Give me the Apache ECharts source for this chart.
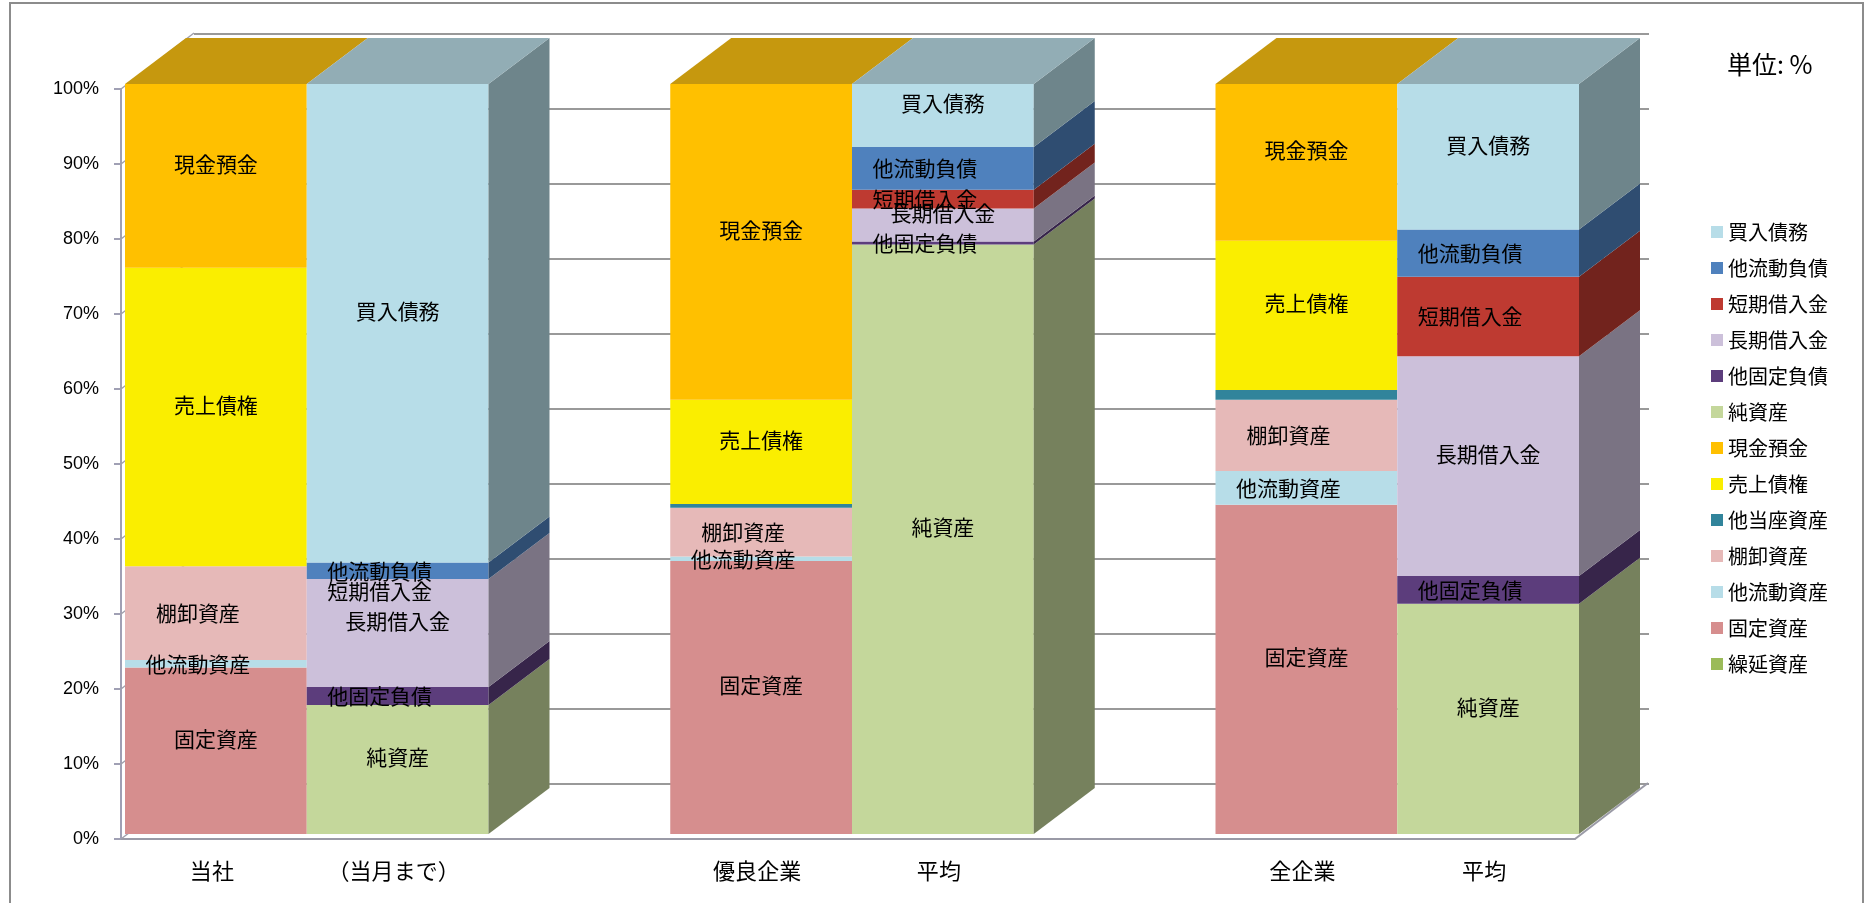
<!DOCTYPE html>
<html lang="ja">
<head>
<meta charset="utf-8">
<title>貸借対照表 構成比較</title>
<script src="https://cdn.jsdelivr.net/npm/echarts@6/dist/echarts.min.js"></script>
<style>
  html, body { margin: 0; padding: 0; background: #fff; }
  #chart { width: 1868px; height: 903px; }
</style>
</head>
<body>
<div id="chart"></div>
<script>
// Column labels (asset column / liability column for each comparison group)
const categories = ['当社', '（当月まで）', '優良企業', '平均', '全企業', '平均'];

// Composition ratios in % per column (null = not part of that column)
const deferredAssets    = [null, null, null, null, null, null];
const fixedAssets       = [22.2, null, 36.4, null, 43.9, null];
const otherCurrentAssets= [1.0,  null, 0.6,  null, 4.5,  null];
const inventories       = [12.5, null, 6.5,  null, 9.5,  null];
const otherQuickAssets  = [null, null, 0.5,  null, 1.3,  null];
const receivables       = [39.8, null, 13.9, null, 19.9, null];
const cashDeposits      = [24.5, null, 42.1, null, 20.9, null];
const netAssets         = [null, 17.2, null, 78.6, null, 30.7];
const otherFixedLiab    = [null, 2.4,  null, 0.4,  null, 3.7];
const longTermLoans     = [null, 14.4, null, 4.4,  null, 29.3];
const shortTermLoans    = [null, 0.0,  null, 2.5,  null, 10.6];
const otherCurrentLiab  = [null, 2.2,  null, 5.7,  null, 6.3];
const tradePayables     = [null, 63.8, null, 8.4,  null, 19.4];

// Y axis ticks
const yTicks = [0, 10, 20, 30, 40, 50, 60, 70, 80, 90, 100];

// Stacking order, bottom to top
const layers = [
  { name: '繰延資産',   values: deferredAssets,     color: '#9bbb59' },
  { name: '固定資産',   values: fixedAssets,        color: '#d68e8e' },
  { name: '他流動資産', values: otherCurrentAssets, color: '#b7dde8' },
  { name: '棚卸資産',   values: inventories,        color: '#e6b9b8' },
  { name: '他当座資産', values: otherQuickAssets,   color: '#31849b' },
  { name: '売上債権',   values: receivables,        color: '#faee00' },
  { name: '現金預金',   values: cashDeposits,       color: '#ffc000' },
  { name: '純資産',     values: netAssets,          color: '#c4d79b' },
  { name: '他固定負債', values: otherFixedLiab,     color: '#5c3d7c' },
  { name: '長期借入金', values: longTermLoans,      color: '#ccc0da' },
  { name: '短期借入金', values: shortTermLoans,     color: '#be3a31' },
  { name: '他流動負債', values: otherCurrentLiab,   color: '#4f81bd' },
  { name: '買入債務',   values: tradePayables,      color: '#b7dde8' }
];

// Legend listing, top of stack first
const legendOrder = layers.map(l => l.name).reverse();

// Segments whose caption sits on one line (name followed by value)
const inlineCaption = new Set(['他流動資産', '棚卸資産', '他固定負債', '短期借入金', '他流動負債']);
// Segments drawn without a caption
const noCaption = new Set(['他当座資産', '繰延資産']);

// 3D look: bar face shift, bar depth and wall depth in pixels
const BAR_SHIFT = [4, -5];
const BAR_DEPTH = [61, -46];
const WALL_DEPTH = [73, -56];

const FONT_CJK = '"Noto Sans CJK JP", "Noto Sans CJK SC", sans-serif';

function shade(hex, f, lift) {
  const n = parseInt(hex.slice(1), 16);
  const k = lift || 0;
  const ch = v => Math.min(255, Math.round(v * f + k));
  return 'rgb(' + ch((n >> 16) & 255) + ',' + ch((n >> 8) & 255) + ',' + ch(n & 255) + ')';
}

// left edge (axis units) of each column: pairs of adjacent bars, groups 3 units apart
function slotLeft(col) {
  return Math.floor(col / 2) * 3 + (col % 2);
}

// topmost layer present in each column
const topLayer = categories.map((_, col) => {
  let top = -1;
  layers.forEach((l, li) => { if (l.values[col] != null && l.values[col] > 0) top = li; });
  return top;
});

// cumulative bases
const running = categories.map(() => 0);
const layerData = layers.map((l, li) => {
  const rows = [];
  l.values.forEach((v, col) => {
    if (v == null) return;
    rows.push([slotLeft(col), v, running[col], topLayer[col] === li ? 1 : 0, col]);
    running[col] += v;
  });
  return rows;
});

function makeRenderer(layer) {
  return function (params, api) {
    const left = api.value(0);
    const val = api.value(1);
    const base = api.value(2);
    const isTop = api.value(3);
    const col = api.value(4);
    const a = api.coord([left, base]);
    const b = api.coord([left + 1, base + val]);
    const x0 = a[0] + BAR_SHIFT[0], x1 = b[0] + BAR_SHIFT[0];
    const yb = a[1] + BAR_SHIFT[1], yt = b[1] + BAR_SHIFT[1];
    const dx = BAR_DEPTH[0], dy = BAR_DEPTH[1];
    const children = [];
    if (val > 0) {
      children.push({
        type: 'rect',
        shape: { x: x0, y: yt, width: x1 - x0, height: yb - yt },
        style: { fill: layer.color }
      });
      if (col % 2 === 1) {
        children.push({
          type: 'polygon',
          shape: { points: [[x1, yb], [x1, yt], [x1 + dx, yt + dy], [x1 + dx, yb + dy]] },
          style: { fill: shade(layer.color, 0.6) }
        });
      }
      if (isTop) {
        children.push({
          type: 'polygon',
          shape: { points: [[x0, yt], [x1, yt], [x1 + dx, yt + dy], [x0 + dx, yt + dy]] },
          style: { fill: shade(layer.color, 0.72, 14) }
        });
      }
    }
    if (!noCaption.has(layer.name)) {
      const cx = (x0 + x1) / 2;
      const cy = (yb + yt) / 2;
      let tx = cx, ty = cy - 12;
      if (inlineCaption.has(layer.name)) {
        tx = cx - 18;
        ty = (yb - yt) < 1 ? cy + 12 : cy;
      }
      children.push({
        type: 'text',
        z2: 100,
        style: {
          text: layer.name, x: tx, y: ty,
          align: 'center', verticalAlign: 'middle',
          fill: '#000', font: '21px ' + FONT_CJK
        }
      });
    }
    return { type: 'group', children: children };
  };
}

// wall edges: floor corner and left wall tick lines
function renderFrame(params, api) {
  const children = [];
  const corner = api.coord([8, 0]);
  children.push({
    type: 'line',
    shape: { x1: corner[0], y1: corner[1], x2: corner[0] + WALL_DEPTH[0], y2: corner[1] + WALL_DEPTH[1] },
    style: { stroke: '#9a9aa6', lineWidth: 2 }
  });
  yTicks.forEach(t => {
    const p = api.coord([0, t]);
    children.push({
      type: 'line',
      shape: { x1: p[0], y1: p[1], x2: p[0] + WALL_DEPTH[0], y2: p[1] + WALL_DEPTH[1] },
      style: { stroke: '#a0a0ac', lineWidth: 1.5 }
    });
  });
  return { type: 'group', children: children };
}

const series = layers.map((layer, li) => ({
  name: layer.name,
  type: 'custom',
  xAxisIndex: 0,
  yAxisIndex: 0,
  z: 3,
  itemStyle: { color: layer.color },
  encode: { x: 0, y: 1 },
  renderItem: makeRenderer(layer),
  data: layerData[li]
}));

series.unshift({
  name: 'frame',
  type: 'custom',
  xAxisIndex: 0,
  yAxisIndex: 0,
  z: 1,
  silent: true,
  renderItem: renderFrame,
  data: [[8, 0]]
});

const chart = echarts.init(document.getElementById('chart'));
chart.setOption({
  backgroundColor: '#fff',
  animation: false,
  title: {
    text: '単位: %',
    left: 1722,
    top: 47,
    textStyle: { fontSize: 25, fontWeight: 'normal', color: '#000', fontFamily: FONT_CJK }
  },
  legend: {
    data: legendOrder,
    orient: 'vertical',
    left: 1706,
    top: 217,
    icon: 'rect',
    itemWidth: 12,
    itemHeight: 12,
    itemGap: 16,
    textStyle: { fontSize: 20, lineHeight: 20, color: '#000', fontFamily: FONT_CJK }
  },
  grid: [
    { left: 121, right: 293, top: 89, bottom: 64 },
    { left: 194, right: 219, top: 34, bottom: 119 }
  ],
  xAxis: [
    {
      gridIndex: 0,
      type: 'value',
      min: 0, max: 8, interval: 0.5,
      splitLine: { show: false },
      axisTick: { show: false },
      axisLine: { show: true, lineStyle: { color: '#9a9aa6', width: 2 } },
      axisLabel: {
        margin: 21,
        fontSize: 22,
        color: '#000',
        fontFamily: FONT_CJK,
        formatter: function (v) {
          const g = Math.floor(v / 3);
          const r = Math.round((v - g * 3) * 10) / 10;
          if (r === 0.5) return categories[g * 2] || '';
          if (r === 1.5) return categories[g * 2 + 1] || '';
          return '';
        }
      }
    },
    {
      gridIndex: 1,
      type: 'value',
      min: 0, max: 8,
      show: false
    }
  ],
  yAxis: [
    {
      gridIndex: 0,
      type: 'value',
      min: 0, max: 100, interval: 10,
      splitLine: { show: false },
      axisLine: { show: true, lineStyle: { color: '#a0a0b4', width: 2 } },
      axisTick: { show: true, length: 7, lineStyle: { color: '#a0a0b4', width: 2 } },
      axisLabel: {
        margin: 22,
        fontSize: 18,
        color: '#000',
        fontFamily: '"Liberation Sans", Arial, sans-serif',
        formatter: '{value}%'
      }
    },
    {
      gridIndex: 1,
      type: 'value',
      min: 0, max: 100, interval: 10,
      axisLine: { show: false },
      axisTick: { show: false },
      axisLabel: { show: false },
      splitLine: { show: true, lineStyle: { color: '#999', width: 2 } }
    }
  ],
  graphic: [{
    type: 'rect',
    silent: true,
    z: -10,
    shape: { x: 10, y: 3, width: 1853, height: 1000 },
    style: { fill: 'none', stroke: '#8c8c8c', lineWidth: 2 }
  }],
  series: series
});
</script>
</body>
</html>
